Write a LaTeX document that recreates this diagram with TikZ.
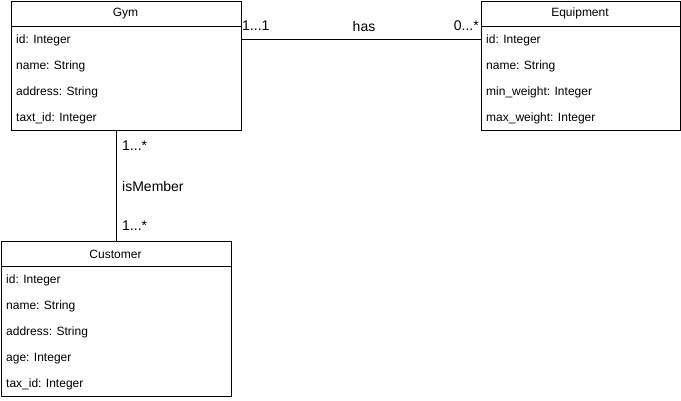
\documentclass[tikz,border=0pt]{standalone}
\usepackage{fontspec}
\setmainfont{Liberation Sans}
\begin{document}
\begin{tikzpicture}[x=1pt,y=-1pt,
  box/.style={draw=black,line width=1pt,rectangle,inner sep=0pt,anchor=north west},
  attr/.style={font=\fontsize{12}{14}\selectfont,anchor=west,inner sep=0pt,text=black,yshift=-0.8pt},
  head/.style={font=\fontsize{12}{14}\selectfont,inner sep=0pt,text=black,yshift=-0.8pt},
  lbl/.style={font=\fontsize{14}{16}\selectfont,inner sep=0pt,text=black},
  conn/.style={draw=black,line width=1pt}]
\useasboundingbox (0,0) rectangle (681,400);
% Gym
\node[box,minimum width=230pt,minimum height=129pt] (gym) at (10.5,0.5) {};
\draw[line width=1pt] (10.5,26) -- (240.5,26);
\node[head] (gymt) at (125.5,13) {Gym};
\node[attr] (gid) at (16,40) {id: Integer};
\node[attr] (gname) at (16,65.8) {name: String};
\node[attr] (gaddr) at (16,91.6) {address: String};
\node[attr] (gtax) at (16,117.4) {taxt\_id: Integer};
% Equipment
\node[box,minimum width=199pt,minimum height=129pt] (eq) at (480.5,0.5) {};
\draw[line width=1pt] (480.5,26) -- (679.5,26);
\node[head] (eqt) at (580,13) {Equipment};
\node[attr] (eid) at (486,40) {id: Integer};
\node[attr] (ename) at (486,65.8) {name: String};
\node[attr] (emin) at (486,91.6) {min\_weight: Integer};
\node[attr] (emax) at (486,117.4) {max\_weight: Integer};
% Customer
\node[box,minimum width=230pt,minimum height=155pt] (cust) at (0.5,240.5) {};
\draw[line width=1pt] (0.5,266.5) -- (230.5,266.5);
\node[head] (custt) at (115.5,253.5) {Customer};
\node[attr] (cid) at (6,280) {id: Integer};
\node[attr] (cname) at (6,305.8) {name: String};
\node[attr] (caddr) at (6,331.6) {address: String};
\node[attr] (cage) at (6,357.4) {age: Integer};
\node[attr] (ctax) at (6,383.2) {tax\_id: Integer};
% connectors
\coordinate (hasy) at (0,39.5);
\draw[conn] (gym.east |- hasy) -- (eq.west |- hasy);
\draw[conn] (cust.north) -- (cust.north |- gym.south);
% labels
\node[lbl,anchor=west] (l11) at (242,26) {1...1};
\node[lbl] (has) at (364,26) {has};
\node[lbl,anchor=east] (l0s) at (479,26) {0...*};
\node[lbl,anchor=west] (l1a) at (122,146) {1...*};
\node[lbl,anchor=west] (ism) at (122,186) {isMember};
\node[lbl,anchor=west] (l1b) at (122,226) {1...*};
\end{tikzpicture}
\end{document}
